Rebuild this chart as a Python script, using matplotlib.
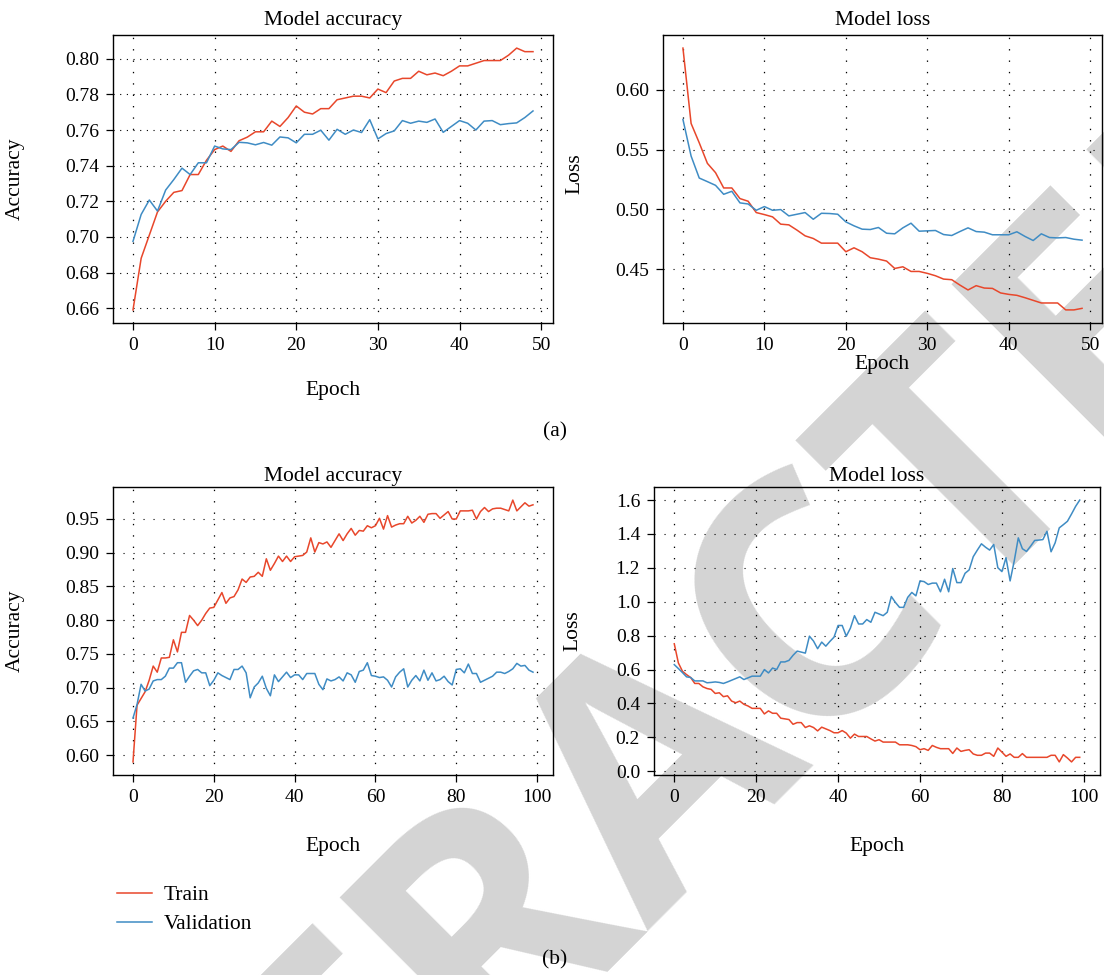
import matplotlib
matplotlib.use("Agg")
import matplotlib.pyplot as plt

plt.rcParams["font.family"] = ["Liberation Serif", "DejaVu Serif"]

RED = "#e8472b"
BLUE = "#3f8cc4"

# (a) 50 epochs
acc_a_train = [0.659, 0.688, 0.701, 0.714, 0.720, 0.725, 0.726, 0.735, 0.735, 0.743,
               0.749, 0.751, 0.748, 0.754, 0.756, 0.759, 0.759, 0.765, 0.762, 0.767,
               0.7735, 0.770, 0.769, 0.772, 0.772, 0.777, 0.778, 0.779, 0.779, 0.778,
               0.783, 0.781, 0.7875, 0.789, 0.789, 0.793, 0.791, 0.792, 0.7905, 0.793,
               0.796, 0.796, 0.7975, 0.799, 0.799, 0.799, 0.802, 0.806, 0.804, 0.804]
acc_a_val = [0.6975, 0.7126, 0.7207, 0.7145, 0.7263, 0.7322, 0.7386, 0.735, 0.7416, 0.7416,
             0.751, 0.7494, 0.749, 0.7531, 0.7528, 0.7517, 0.753, 0.7515, 0.7561, 0.7556,
             0.7528, 0.7576, 0.7576, 0.7599, 0.7543, 0.7604, 0.7576, 0.760, 0.7586, 0.7658,
             0.755, 0.758, 0.7595, 0.7653, 0.7638, 0.765, 0.7643, 0.7662, 0.7587, 0.762,
             0.7653, 0.7638, 0.760, 0.765, 0.7653, 0.763, 0.7636, 0.764, 0.767, 0.7707]
loss_a_train = [0.635, 0.5719, 0.5557, 0.5385, 0.5307, 0.5179, 0.5179, 0.509, 0.5068, 0.4973,
                0.4956, 0.4937, 0.4876, 0.487, 0.4826, 0.4778, 0.4756, 0.4717, 0.4717, 0.4717,
                0.4645, 0.4678, 0.4645, 0.4595, 0.4583, 0.4567, 0.4505, 0.4519, 0.448, 0.448,
                0.4464, 0.4444, 0.4416, 0.4411, 0.4366, 0.4325, 0.4361, 0.4341, 0.4338, 0.430,
                0.4288, 0.428, 0.426, 0.4238, 0.4216, 0.4216, 0.4216, 0.4158, 0.4158, 0.4171]
loss_a_val = [0.5752, 0.5446, 0.5262, 0.5232, 0.5201, 0.5126, 0.5151, 0.5054, 0.5045, 0.4992,
              0.5023, 0.4992, 0.4998, 0.4945, 0.4959, 0.4973, 0.4917, 0.4967, 0.4965, 0.4959,
              0.4895, 0.4862, 0.4834, 0.4831, 0.4848, 0.480, 0.4795, 0.4845, 0.4884, 0.4817,
              0.482, 0.4823, 0.4789, 0.4781, 0.4814, 0.4845, 0.4814, 0.4809, 0.4787, 0.4787,
              0.4787, 0.4812, 0.4773, 0.4739, 0.4795, 0.4764, 0.4761, 0.4764, 0.475, 0.4742]

# (b) 100 epochs
acc_b_train = [0.590, 0.674, 0.684, 0.694, 0.711, 0.732, 0.723, 0.744, 0.744, 0.745,
               0.771, 0.753, 0.782, 0.782, 0.807, 0.800, 0.792, 0.800, 0.810, 0.818,
               0.819, 0.830, 0.841, 0.825, 0.833, 0.835, 0.845, 0.861, 0.856, 0.864,
               0.865, 0.871, 0.865, 0.891, 0.874, 0.884, 0.895, 0.887, 0.895, 0.887,
               0.894, 0.895, 0.896, 0.901, 0.922, 0.901, 0.915, 0.913, 0.916, 0.908,
               0.918, 0.928, 0.918, 0.928, 0.936, 0.926, 0.933, 0.932, 0.940, 0.937,
               0.940, 0.951, 0.935, 0.955, 0.938, 0.941, 0.943, 0.943, 0.954, 0.944,
               0.948, 0.954, 0.945, 0.957, 0.958, 0.958, 0.951, 0.956, 0.961, 0.950,
               0.950, 0.962, 0.962, 0.962, 0.963, 0.950, 0.961, 0.967, 0.961, 0.965,
               0.966, 0.966, 0.964, 0.962, 0.978, 0.962, 0.968, 0.974, 0.969, 0.971]
acc_b_val = [0.655, 0.675, 0.705, 0.695, 0.698, 0.710, 0.712, 0.712, 0.717, 0.729,
             0.729, 0.737, 0.737, 0.708, 0.717, 0.725, 0.727, 0.722, 0.722, 0.703,
             0.711, 0.722, 0.718, 0.715, 0.712, 0.727, 0.727, 0.732, 0.722, 0.685,
             0.701, 0.707, 0.717, 0.699, 0.688, 0.719, 0.709, 0.716, 0.723, 0.715,
             0.719, 0.719, 0.712, 0.721, 0.721, 0.721, 0.705, 0.697, 0.713, 0.710,
             0.712, 0.716, 0.710, 0.722, 0.719, 0.708, 0.724, 0.726, 0.737, 0.718,
             0.717, 0.715, 0.716, 0.711, 0.701, 0.716, 0.723, 0.728, 0.701, 0.711,
             0.718, 0.710, 0.726, 0.711, 0.722, 0.710, 0.712, 0.717, 0.709, 0.704,
             0.727, 0.728, 0.722, 0.735, 0.721, 0.721, 0.708, 0.711, 0.714, 0.717,
             0.723, 0.723, 0.721, 0.724, 0.728, 0.736, 0.732, 0.733, 0.726, 0.723]
loss_b_train = [0.752, 0.639, 0.590, 0.570, 0.553, 0.518, 0.518, 0.498, 0.488, 0.483,
                0.459, 0.463, 0.440, 0.445, 0.414, 0.404, 0.414, 0.395, 0.385, 0.371,
                0.371, 0.371, 0.338, 0.356, 0.342, 0.342, 0.313, 0.309, 0.305, 0.277,
                0.287, 0.287, 0.258, 0.268, 0.258, 0.238, 0.260, 0.250, 0.240, 0.227,
                0.227, 0.240, 0.225, 0.195, 0.219, 0.205, 0.205, 0.205, 0.191, 0.178,
                0.186, 0.172, 0.172, 0.172, 0.172, 0.156, 0.156, 0.156, 0.152, 0.145,
                0.127, 0.133, 0.123, 0.152, 0.141, 0.133, 0.133, 0.133, 0.105, 0.137,
                0.117, 0.123, 0.127, 0.102, 0.094, 0.094, 0.107, 0.107, 0.088, 0.137,
                0.113, 0.088, 0.102, 0.082, 0.082, 0.104, 0.082, 0.082, 0.082, 0.082,
                0.082, 0.082, 0.094, 0.094, 0.055, 0.098, 0.078, 0.055, 0.082, 0.082]
loss_b_val = [0.629, 0.606, 0.582, 0.557, 0.553, 0.533, 0.533, 0.533, 0.522, 0.524,
              0.527, 0.524, 0.518, 0.527, 0.537, 0.547, 0.557, 0.541, 0.551, 0.561,
              0.561, 0.561, 0.600, 0.580, 0.609, 0.600, 0.645, 0.645, 0.654, 0.684,
              0.709, 0.703, 0.697, 0.797, 0.768, 0.723, 0.762, 0.738, 0.766, 0.791,
              0.860, 0.860, 0.797, 0.844, 0.918, 0.869, 0.869, 0.895, 0.879, 0.938,
              0.928, 0.918, 0.938, 1.031, 0.996, 0.967, 0.967, 1.026, 1.055, 1.035,
              1.123, 1.119, 1.102, 1.110, 1.110, 1.059, 1.133, 1.059, 1.196, 1.113,
              1.113, 1.168, 1.188, 1.266, 1.305, 1.342, 1.322, 1.305, 1.338, 1.201,
              1.178, 1.260, 1.123, 1.240, 1.377, 1.313, 1.297, 1.328, 1.362, 1.364,
              1.367, 1.416, 1.295, 1.348, 1.436, 1.455, 1.475, 1.518, 1.563, 1.600]

yticks_acc_a = [0.66, 0.68, 0.70, 0.72, 0.74, 0.76, 0.78, 0.80]
yticks_loss_a = [0.45, 0.50, 0.55, 0.60]
yticks_acc_b = [0.60, 0.65, 0.70, 0.75, 0.80, 0.85, 0.90, 0.95]
yticks_loss_b = [0.0, 0.2, 0.4, 0.6, 0.8, 1.0, 1.2, 1.4, 1.6]
series_labels = ["Train", "Validation"]

TXT = 15.5


def make_panel(rect, train, val, yticks, xticks, title, ylabel, title_pad, ylab_xy, xlab_y, fmt, hgap=8):
    ax = fig.add_axes(rect)
    ax.set_facecolor("none")
    ax.plot(range(len(train)), train, color=RED, lw=1.1, label=series_labels[0])
    ax.plot(range(len(val)), val, color=BLUE, lw=1.1, label=series_labels[1])
    ax.set_yticks(yticks)
    ax.yaxis.set_major_formatter(plt.FormatStrFormatter(fmt))
    ax.set_xticks(xticks)
    ax.xaxis.grid(True, color="k", lw=0.9, linestyle=(0, (1.1, 8)))
    ax.yaxis.grid(True, color="k", lw=0.8, linestyle=(0, (1.0, hgap)))
    ax.tick_params(direction="out", length=5, width=0.9, labelsize=14, pad=5)
    for s in ax.spines.values():
        s.set_linewidth(1.0)
    ax.set_title(title, fontsize=TXT, pad=title_pad)
    ax.set_ylabel(ylabel, fontsize=TXT)
    ax.yaxis.set_label_coords(*ylab_xy)
    ax.set_xlabel("Epoch", fontsize=TXT)
    ax.xaxis.set_label_coords(0.5, xlab_y)
    return ax


W, H = 1104, 975
fig = plt.figure(figsize=(W / 100, H / 100), dpi=100)
fig.patch.set_facecolor("white")

# watermark, behind the (transparent) axes
fig.text(727 / W, 1 - 822 / H, "RETRACTED", fontsize=245, fontweight="bold", family="Open Sans",
         color="#d4d4d4", rotation=45, rotation_mode="anchor", ha="center", va="baseline",
         zorder=-10)

ax1 = make_panel([113 / W, 1 - 323 / H, 440 / W, 288 / H], acc_a_train, acc_a_val,
                 yticks_acc_a, [0, 10, 20, 30, 40, 50], "Model accuracy", "Accuracy", 7,
                 (-0.2, 0.5), -0.2, "%.2f", hgap=5)
ax2 = make_panel([663 / W, 1 - 323 / H, 439 / W, 288 / H], loss_a_train, loss_a_val,
                 yticks_loss_a, [0, 10, 20, 30, 40, 50], "Model loss", "Loss", 7,
                 (-0.18, 0.52), -0.11, "%.2f")
ax3 = make_panel([113 / W, 1 - 775 / H, 440 / W, 288 / H], acc_b_train, acc_b_val,
                 yticks_acc_b, [0, 20, 40, 60, 80, 100], "Model accuracy", "Accuracy", 4,
                 (-0.2, 0.5), -0.215, "%.2f")
ax4 = make_panel([654 / W, 1 - 775 / H, 446 / W, 288 / H], loss_b_train, loss_b_val,
                 yticks_loss_b, [0, 20, 40, 60, 80, 100], "Model loss", "Loss", 4,
                 (-0.16, 0.5), -0.215, "%.1f")

fig.text(555 / W, 1 - 432 / H, "(a)", fontsize=TXT, ha="center", va="center")
fig.text(555 / W, 1 - 960 / H, "(b)", fontsize=TXT, ha="center", va="center")

handles, labels = ax1.get_legend_handles_labels()
fig.legend(handles, labels, loc="upper left", bbox_to_anchor=(98 / W, 1 - 866 / H),
           frameon=False, fontsize=TXT, handlelength=1.6, handletextpad=0.55, labelspacing=0.4)

fig.savefig("out.png", dpi=100)
